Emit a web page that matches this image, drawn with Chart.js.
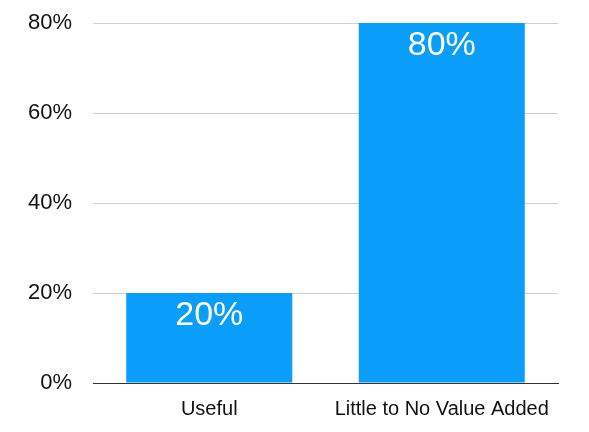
<!DOCTYPE html>
<html>
<head>
<meta charset="utf-8">
<script src="https://cdn.jsdelivr.net/npm/chart.js@4"></script>
<style>
  html, body { margin: 0; padding: 0; background: #fff; }
  #wrap { width: 589px; height: 432px; }
</style>
</head>
<body>
<div id="wrap"><canvas id="barChart"></canvas></div>
<script>
var categories = ['Useful', 'Little to No Value Added'];
var shares = [20, 80];
var tickValues = [0, 20, 40, 60, 80];

// white value labels near the top of each bar
var valueLabels = {
    id: 'valueLabels',
    afterDatasetsDraw: function (chart) {
        var ctx = chart.ctx;
        var meta = chart.getDatasetMeta(0);
        ctx.save();
        ctx.fillStyle = '#ffffff';
        ctx.font = '34px "Liberation Sans", Arial, sans-serif';
        ctx.textAlign = 'center';
        ctx.textBaseline = 'middle';
        meta.data.forEach(function (bar, i) {
            ctx.fillText(shares[i] + '%', bar.x, bar.y + 23);
        });
        ctx.restore();
    }
};

var ctx = document.getElementById('barChart').getContext('2d');
var chart = new Chart(ctx, {
    type: 'bar',
    data: {
        labels: categories,
        datasets: [{
            data: shares,
            backgroundColor: '#0a9dfa',
            borderWidth: 0,
            categoryPercentage: 1,
            barPercentage: 0.714
        }]
    },
    options: {
        responsive: true,
        maintainAspectRatio: false,
        animation: false,
        layout: { padding: { top: 23, right: 31, left: 0, bottom: 0 } },
        plugins: {
            legend: { display: false },
            tooltip: { enabled: false }
        },
        scales: {
            x: {
                grid: { display: false, drawTicks: false },
                border: { color: '#333333', width: 1 },
                ticks: {
                    color: '#111111',
                    padding: 14,
                    font: { family: '"Liberation Sans", Arial, sans-serif', size: 20 }
                },
                afterFit: function (scale) {
                    scale.height = 49;
                    scale.paddingLeft = 0;
                    scale.paddingRight = 0;
                }
            },
            y: {
                min: 0,
                max: 80,
                afterBuildTicks: function (scale) {
                    scale.ticks = tickValues.map(function (v) { return { value: v }; });
                },
                grid: {
                    color: function (c) { return c.tick.value === 0 ? '#333333' : '#cfcfcf'; },
                    lineWidth: 1,
                    drawTicks: false
                },
                border: { display: false },
                ticks: {
                    color: '#111111',
                    padding: 21,
                    font: { family: '"Liberation Sans", Arial, sans-serif', size: 22 },
                    callback: function (value) { return value + '%'; }
                },
                afterFit: function (scale) {
                    scale.width = 93;
                    scale.paddingTop = 0;
                    scale.paddingBottom = 0;
                }
            }
        }
    },
    plugins: [valueLabels]
});
</script>
</body>
</html>
